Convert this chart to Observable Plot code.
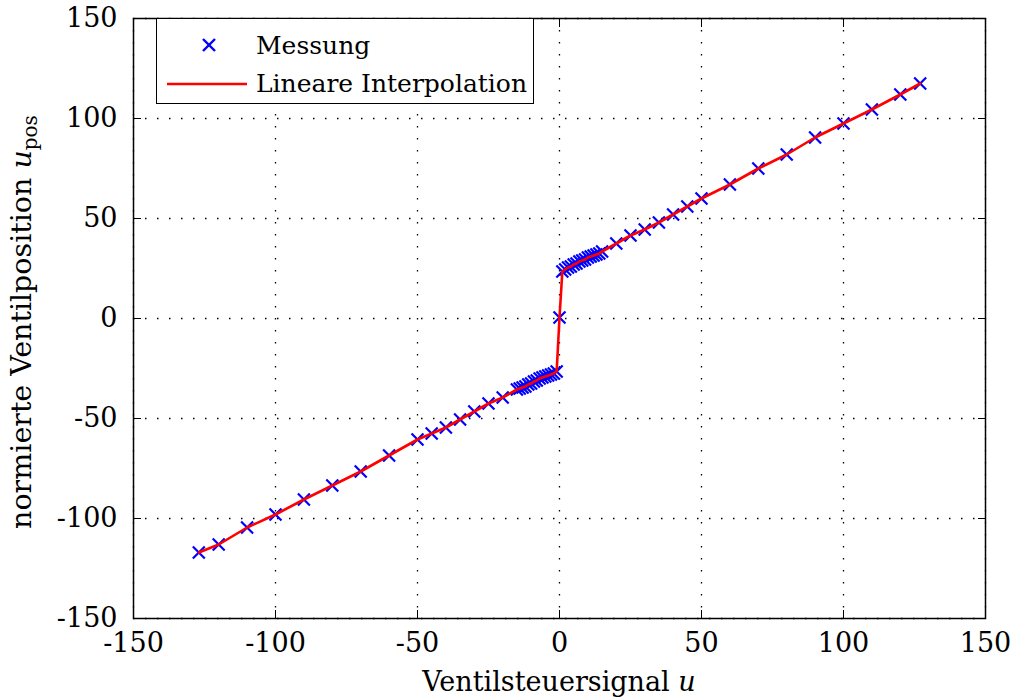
<!DOCTYPE html>
<html><head><meta charset="utf-8">
<script src="https://cdn.jsdelivr.net/npm/d3@7"></script>
<script src="https://cdn.jsdelivr.net/npm/@observablehq/plot@0.6"></script>
<style>
body{margin:0;background:#fff;}
#wrap{position:relative;width:1010px;height:699px;}
#legend{position:absolute;left:156px;top:18px;width:378px;height:86px;border:1.5px solid #000;background:#fff;box-sizing:border-box;font-family:"DejaVu Serif","Liberation Serif",serif;font-size:25px;color:#000;}
#legend .row{position:absolute;left:0;height:36px;line-height:36px;white-space:nowrap;}
#legend .lbl{position:absolute;left:99px;top:0;}
#legend svg{position:absolute;left:0;top:0;}
</style></head>
<body><div id="wrap"></div>
<script>
const uMess = [-127,-120,-110,-100,-90,-80,-70,-60,-50,-45,-40,-35,-30,-25,-20,
  -15,-14,-13,-12,-11,-10,-9,-8,-7,-6,-5,-4,-3,-2,-1,0,
  1,2,3,4,5,6,7,8,9,10,11,12,13,14,15,
  20,25,30,35,40,45,50,60,70,80,90,100,110,120,127];
const posMess = [-117,-113,-104.5,-98,-90.5,-83.5,-76.5,-68.5,-60.5,-57.5,-54.5,-50.5,-46.5,-42.5,-39.5,
  -35.5,-35,-34.5,-34,-33,-32.5,-31.5,-31,-30,-29.5,-29,-28.5,-28,-27.5,-26.5,0.5,
  23.5,24.5,25.5,26,27,27.5,28.5,29,29.5,30.5,31,31.5,32,32.5,33.5,
  37.5,41.5,44.5,48,52,56,60,67,75,82,90.5,97.5,104.5,112,117.5];
const xTicks = [-150,-100,-50,0,50,100,150];
const yTicks = [-150,-100,-50,0,50,100,150];
const legendLabels = ["Messung","Lineare Interpolation"];

const data = uMess.map((u,i)=>({u, p: posMess[i]}));
const fmt = d => String(d);
const font = '"DejaVu Serif", "Liberation Serif", serif';
const fs = 27;

const chart = Plot.plot({
  width: 1010, height: 699,
  marginLeft: 133, marginRight: 25, marginTop: 18, marginBottom: 81,
  style: {fontFamily: font, fontSize: fs + "px", background: "#fff", color: "#000"},
  x: {domain: [-150,150], ticks: xTicks, label: null},
  y: {domain: [-150,150], ticks: yTicks, label: null},
  marks: [
    Plot.gridX(xTicks, {stroke: "#000", strokeOpacity: 1, strokeWidth: 1.3, strokeDasharray: "1.5,10.5"}),
    Plot.gridY(yTicks, {stroke: "#000", strokeOpacity: 1, strokeWidth: 1.3, strokeDasharray: "1.5,10.5"}),
    Plot.axisX(xTicks, {anchor: "bottom", tickSize: -8, tickPadding: 22, tickFormat: fmt, fontSize: fs, fontFamily: font}),
    Plot.axisX(xTicks, {anchor: "top", tickSize: -8, tickFormat: () => ""}),
    Plot.axisY(yTicks, {anchor: "left", tickSize: -8, tickPadding: 24, tickFormat: fmt, fontSize: fs, fontFamily: font}),
    Plot.axisY(yTicks, {anchor: "right", tickSize: -8, tickFormat: () => ""}),
    Plot.dot(data, {x: "u", y: "p", symbol: "times", r: 5.5, stroke: "#0000ff", strokeWidth: 2.2}),
    Plot.line(data, {x: "u", y: "p", stroke: "#ff0000", strokeWidth: 2.6}),
    Plot.frame({stroke: "#000", strokeWidth: 1.5})
  ]
});
document.getElementById("wrap").appendChild(chart);
d3.select(chart).selectAll("text").attr("font-family", font);

const svg = d3.select(chart);
const xl = svg.append("text").attr("x", 559).attr("y", 691).attr("text-anchor","middle")
  .attr("font-family", font).attr("font-size", fs).attr("fill","#000");
xl.append("tspan").text("Ventilsteuersignal ");
xl.append("tspan").attr("font-style","italic").text("u");
const yl = svg.append("text").attr("transform","translate(31,322) rotate(-90)").attr("text-anchor","middle")
  .attr("font-family", font).attr("font-size", 28.5).attr("fill","#000");
yl.append("tspan").text("normierte Ventilposition ");
yl.append("tspan").attr("font-style","italic").text("u");
yl.append("tspan").attr("font-size", 20).attr("dy", 6).text("pos");

const leg = document.createElement("div");
leg.id = "legend";
leg.innerHTML = `
<svg width="378" height="86">
  <g stroke="#0000ff" stroke-width="2.4">
    <line x1="46" y1="20" x2="58" y2="32"/><line x1="46" y1="32" x2="58" y2="20"/>
  </g>
  <line x1="10" y1="65" x2="90" y2="65" stroke="#ff0000" stroke-width="2.6"/>
</svg>
<div class="row" style="top:9px"><span class="lbl">${legendLabels[0]}</span></div>
<div class="row" style="top:47px"><span class="lbl">${legendLabels[1]}</span></div>`;
document.getElementById("wrap").appendChild(leg);
</script></body></html>
